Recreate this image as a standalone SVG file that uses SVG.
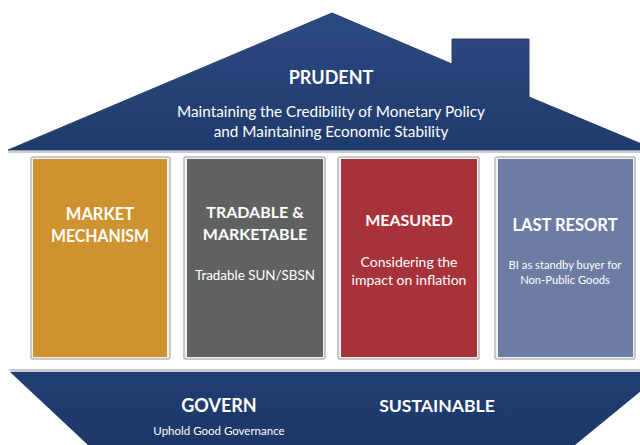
<svg xmlns="http://www.w3.org/2000/svg" width="640" height="445" viewBox="0 0 640 445">
<defs>
<linearGradient id="roofG" x1="0" y1="0" x2="0" y2="1">
<stop offset="0" stop-color="#2d4a82"/>
<stop offset="1" stop-color="#1f3a6c"/>
</linearGradient>
<linearGradient id="baseG" x1="0" y1="0" x2="0" y2="1">
<stop offset="0" stop-color="#223f74"/>
<stop offset="1" stop-color="#1c3767"/>
</linearGradient>
</defs>
<style>
.frame{fill:#f2f2f2;stroke:#b9b9b9;stroke-width:1.5}
.t{font-family:Lato,"Open Sans",sans-serif;fill:#fff;text-anchor:middle}
.b{font-weight:bold}
</style>
<rect width="640" height="445" fill="#ffffff"/>
<g id="roof">
<polygon points="8,150 332,13 452,64 452,39 529,39 529,97 656,150" fill="url(#roofG)" stroke="#2a3f66" stroke-width="1"/>
<line x1="8" y1="152" x2="640" y2="152" stroke="#c8ccd4" stroke-width="2"/>
<text class="t b" x="331" y="84" font-size="18">PRUDENT</text>
<text class="t" x="331" y="117" font-size="15.3">Maintaining the Credibility of Monetary Policy</text>
<text class="t" x="331" y="137" font-size="15.3">and Maintaining Economic Stability</text>
</g>
<g id="pillar1">
<rect class="frame" x="31" y="157" width="139" height="202" rx="2"/>
<rect x="33" y="159" width="134" height="198" fill="#ce922e"/>
<text class="t b" x="100" y="220" font-size="16.5">MARKET</text>
<text class="t b" x="100" y="242" font-size="16.5" textLength="98" lengthAdjust="spacingAndGlyphs">MECHANISM</text>
</g>
<g id="pillar2">
<rect class="frame" x="184" y="157" width="141" height="202" rx="2"/>
<rect x="187" y="159" width="136" height="198" fill="#5f6261"/>
<text class="t b" x="255" y="218" font-size="16">TRADABLE &amp;</text>
<text class="t b" x="255" y="240" font-size="16">MARKETABLE</text>
<text class="t" x="255" y="280" font-size="13.4">Tradable SUN/SBSN</text>
</g>
<g id="pillar3">
<rect class="frame" x="338" y="157" width="141" height="202" rx="2"/>
<rect x="341" y="159" width="136" height="198" fill="#a8323a"/>
<text class="t b" x="409" y="226" font-size="16">MEASURED</text>
<text class="t" x="409" y="267" font-size="14">Considering the</text>
<text class="t" x="409" y="285" font-size="14">impact on inflation</text>
</g>
<g id="pillar4">
<rect class="frame" x="495" y="157" width="140" height="202" rx="2"/>
<rect x="498" y="159" width="135" height="198" fill="#6e7ca4"/>
<text class="t b" x="565" y="231" font-size="16.5">LAST RESORT</text>
<text class="t" x="565" y="269" font-size="11.2">BI as standby buyer for</text>
<text class="t" x="565" y="284" font-size="11.2">Non-Public Goods</text>
</g>
<g id="base">
<polygon points="8,369 668,369 575,445 88,445" fill="#c8ccd4"/>
<polygon points="10,372 664,372 575,445 88,445" fill="url(#baseG)"/>
<text class="t b" x="219" y="412" font-size="18">GOVERN</text>
<text class="t" x="219" y="435" font-size="11.5">Uphold Good Governance</text>
<text class="t b" x="437" y="412" font-size="17.6">SUSTAINABLE</text>
</g>
<g id="connectors"/>
</svg>
